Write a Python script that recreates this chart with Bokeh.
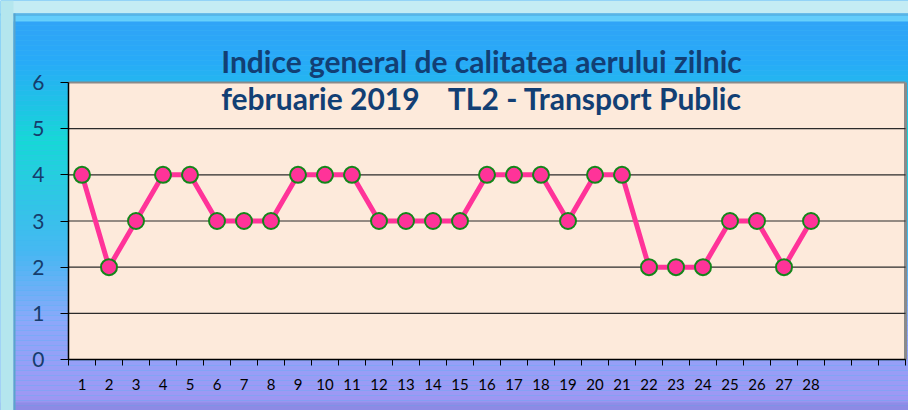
from bokeh.plotting import figure
from bokeh.models import (ColumnDataSource, FixedTicker, Label, Range1d, BoxAnnotation)
from bokeh.embed import file_html
from bokeh.resources import INLINE

# ---- data ----
days = list(range(1, 29))
index_values = [4, 2, 3, 4, 4, 3, 3, 3, 4, 4, 4, 3, 3, 3, 3, 4, 4, 4, 3, 4, 4, 2, 2, 2, 3, 3, 2, 3]
n_slots = 31
y_ticks = [0, 1, 2, 3, 4, 5, 6]
title_line1 = "Indice general de calitatea aerului zilnic"
title_line2 = "februarie 2019\u00a0\u00a0\u00a0\u00a0TL2 - Transport Public"

W, H = 908, 410
# plot-area placement on the canvas (pixels)
AL, AR, AT, AB = 68, 905, 82, 359
xs = (AR - AL) / n_slots
ys = (AB - AT) / 6.0
x0 = 0.5 - AL / xs
x1 = 0.5 + n_slots + (W - AR) / xs
y0 = 0 - (H - AB) / ys
y1 = 6 + AT / ys

p = figure(width=W, height=H, output_backend="svg", toolbar_location=None,
           x_range=Range1d(x0, x1), y_range=Range1d(y0, y1),
           min_border=0, min_border_left=0, min_border_right=0,
           min_border_top=0, min_border_bottom=0)
p.title.visible = False
p.outline_line_color = None
p.border_fill_color = "#3fb6f2"
p.background_fill_color = "#3fb6f2"

# vertical gradient of the chart background (screen units, from the bottom)
stops = [(0, (52, 160, 246)), (60, (40, 170, 248)), (140, (22, 216, 214)),
         (250, (70, 184, 242)), (320, (140, 168, 250)), (395, (158, 152, 244)), (410, (150, 146, 236))]
def col(y):
    for (ya, ca), (yb, cb) in zip(stops[:-1], stops[1:]):
        if ya <= y <= yb:
            t = (y - ya) / (yb - ya)
            return "#%02x%02x%02x" % tuple(int(round(a + (b - a) * t)) for a, b in zip(ca, cb))
    return "#%02x%02x%02x" % stops[-1][1]
step = 5
for yy in range(0, H, step):
    p.add_layout(BoxAnnotation(left=0, right=W, top=H - yy, bottom=H - yy - step,
                               left_units="screen", right_units="screen",
                               top_units="screen", bottom_units="screen",
                               fill_color=col(yy + step / 2), fill_alpha=1.0, line_color=None,
                               level="underlay", editable=False))
def sbox(l, r, t, b, c, a=1.0):
    p.add_layout(BoxAnnotation(left=l, right=r, top=H - t, bottom=H - b,
                               left_units="screen", right_units="screen",
                               top_units="screen", bottom_units="screen",
                               fill_color=c, fill_alpha=a, line_color=None,
                               level="underlay", editable=False))
# bevel / glow
sbox(0, W, 402, H, "#7c7ad8", 0.35)
sbox(0, W, 15, 21, "#8ff0ff", 0.55)
sbox(0, W, 0, 13, "#c4ecf4")
sbox(0, W, 13, 15, "#5cb4e2")
sbox(0, 13, 0, H, "#b4e6ee")
sbox(13, 15, 13, H, "#5aa4cc")

# plot area
p.add_layout(BoxAnnotation(left=0.5, right=0.5 + n_slots, bottom=0, top=6,
                           fill_color="#fdeadb", fill_alpha=1.0,
                           line_color=None, level="underlay", editable=False))
# right / top shadow of plot area
p.segment(x0=[0.5], y0=[6], x1=[0.5 + n_slots], y1=[6], line_color="#8a8a8a", line_width=2)
p.segment(x0=[0.5 + n_slots], y0=[0], x1=[0.5 + n_slots], y1=[6], line_color="#8a8a8a", line_width=3)
# horizontal gridlines
p.segment(x0=[0.5] * 6, y0=y_ticks[:-1], x1=[0.5 + n_slots] * 6, y1=y_ticks[:-1],
          line_color="#2b2b2b", line_width=1.2)

src = ColumnDataSource(dict(x=days, y=index_values))
p.line("x", "y", source=src, line_color="#ff3399", line_width=5)
p.scatter("x", "y", source=src, size=16, fill_color="#ff3399", line_color="#14861a", line_width=2)

p.xgrid.visible = False
p.ygrid.visible = False

xa = p.xaxis[0]
xa.fixed_location = 0
xa.bounds = (0.5, 0.5 + n_slots)
xa.ticker = FixedTicker(ticks=days, minor_ticks=[i + 0.5 for i in range(0, n_slots + 1)])
xa.major_tick_out = 0
xa.major_tick_in = 0
xa.minor_tick_out = 6
xa.minor_tick_in = 0
xa.minor_tick_line_color = "black"
xa.major_label_text_font = "Lato"
xa.major_label_text_font_size = "15px"
xa.major_label_text_color = "black"
xa.major_label_standoff = 13

ya = p.yaxis[0]
ya.fixed_location = 0.5
ya.bounds = (0, 6)
ya.ticker = FixedTicker(ticks=y_ticks)
ya.minor_tick_line_color = None
ya.major_tick_out = 8
ya.major_tick_in = 0
ya.major_label_text_font = "Lato"
ya.major_label_text_font_size = "21px"
ya.major_label_text_color = "#163c6c"
ya.major_label_standoff = 16
for ax in (xa, ya):
    ax.axis_line_color = "black"
    ax.axis_line_width = 1.5
    ax.major_tick_line_color = "black"

for txt, yy in ((title_line1, 60), (title_line2, 97)):
    p.add_layout(Label(x=481, y=H - yy, x_units="screen", y_units="screen", text=txt,
                       text_font="Lato", text_font_style="bold", text_font_size="30px",
                       text_color="#123f74", text_align="center", text_baseline="alphabetic"))

open("out.html", "w").write(file_html(p, INLINE))
